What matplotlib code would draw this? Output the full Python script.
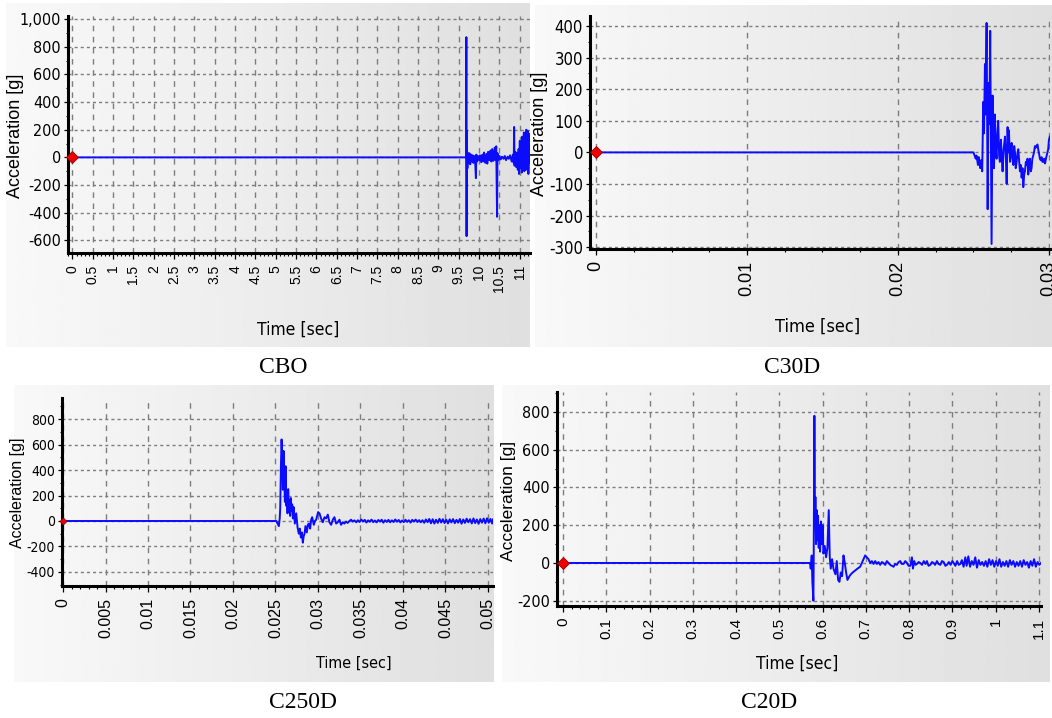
import numpy as np
import matplotlib.pyplot as plt
from matplotlib.ticker import MultipleLocator, FuncFormatter

W, H = 1052, 718
SANS = ['Liberation Sans', 'DejaVu Sans']
NARROW = ['Liberation Sans Narrow', 'DejaVu Sans']
SERIF = ['Liberation Serif', 'DejaVu Serif']

# ==============================
# data (time [s], acceleration [g])
# ==============================
t_cbo = [0.0, 9.68, 9.685, 9.69, 9.695, 9.70, 9.705, 9.71, 9.72, 9.73,
         9.74, 9.75, 9.76, 9.78, 9.80, 9.82, 9.84, 9.86, 9.88, 9.90,
         9.92, 9.93, 9.95, 9.97, 10.00, 10.02, 10.05, 10.08, 10.10, 10.12,
         10.15, 10.18, 10.20, 10.22, 10.25, 10.28, 10.30, 10.32, 10.35, 10.38,
         10.40, 10.42, 10.44, 10.45, 10.47, 10.50, 10.53, 10.56, 10.60, 10.63,
         10.66, 10.70, 10.73, 10.76, 10.80, 10.83, 10.85, 10.86, 10.87, 10.89,
         10.91, 10.93, 10.95, 10.97, 10.98, 11.00, 11.01, 11.03, 11.05, 11.06,
         11.08, 11.10, 11.11, 11.13, 11.15, 11.16, 11.18, 11.20, 11.21, 11.23,
         11.25]
a_cbo = [0, 0, 870, -570, 190, -150, 40, -80, 30, -40,
         25, -20, 30, -50, 20, -30, 15, -40, 10, -20,
         -150, 20, -30, 10, -20, 15, -35, 20, -30, 35,
         -40, 25, -45, 40, -20, 50, -30, 60, -25, 70,
         -20, 80, -430, 30, -20, 10, -15, 5, -10, 10,
         -20, 5, -10, 15, -30, 20, -40, 220, -60, 40,
         -70, 30, -90, 60, -120, 120, -80, 70, -110, 150,
         -60, 180, -100, 160, -90, 200, -70, 190, -120, 170,
         -40]

t_c30 = [0.0, 0.0250, 0.02515, 0.0252, 0.02530, 0.02535, 0.02545, 0.0255, 0.02558, 0.02565,
         0.02570, 0.02576, 0.02580, 0.02587, 0.02594, 0.02600, 0.02605, 0.02611, 0.02620, 0.02627,
         0.02632, 0.02636, 0.02642, 0.02648, 0.02653, 0.02659, 0.02664, 0.02670, 0.02675, 0.02682,
         0.02688, 0.02693, 0.02700, 0.02709, 0.02715, 0.02720, 0.02726, 0.02731, 0.02735, 0.02742,
         0.02748, 0.02753, 0.02758, 0.02764, 0.02770, 0.02775, 0.02780, 0.02786, 0.02792, 0.02797,
         0.02803, 0.02808, 0.02814, 0.02819, 0.02825, 0.02830, 0.02836, 0.02841, 0.02847, 0.02852,
         0.02858, 0.02863, 0.02868, 0.02874, 0.02880, 0.02885, 0.02890, 0.02896, 0.02901, 0.02907,
         0.02912, 0.02918, 0.02924, 0.02929, 0.02935, 0.02940, 0.02946, 0.02951, 0.02957, 0.02962,
         0.02968, 0.02974, 0.02980, 0.02985, 0.02990, 0.02995, 0.03000, 0.03006]
a_c30 = [0, 0, -20, -10, -40, -15, -50, -25, -60, 160,
         60, 280, 120, 410, -180, 220, 90, 385, -290, 180,
         20, -50, 120, 10, -20, 60, 100, -10, -30, 40,
         -20, -60, 10, 50, -20, -100, 80, 0, 70, -30,
         10, 30, -20, -40, 20, 0, -50, -30, 0, 10,
         -30, -60, -40, -80, -50, -110, -70, -60, -30, -40,
         -20, -70, -40, -20, -60, -50, -20, -10, 0, 20,
         15, 20, 25, 10, -5, -20, -25, -15, -30, -30,
         -20, -35, -20, -10, 0, 10, 40, 50]

t_c250 = [0.0, 0.02509, 0.02525, 0.02540, 0.02550, 0.02556, 0.02564, 0.02572, 0.02579, 0.02587,
          0.02595, 0.02603, 0.02611, 0.02619, 0.02626, 0.02634, 0.02642, 0.02650, 0.02658, 0.02666,
          0.02673, 0.02681, 0.02689, 0.02697, 0.02705, 0.02713, 0.02728, 0.02744, 0.02760, 0.02775,
          0.02787, 0.02799, 0.02810, 0.02822, 0.02832, 0.02842, 0.02853, 0.02869, 0.02881, 0.02893,
          0.02908, 0.02920, 0.02932, 0.02951, 0.02965, 0.02979, 0.02990, 0.03002, 0.03018, 0.03037,
          0.03057, 0.03077, 0.03096, 0.03116, 0.03135, 0.03155, 0.03175, 0.03194, 0.03214, 0.03233,
          0.03253, 0.03272, 0.03292, 0.03311, 0.03331, 0.03350, 0.03370, 0.03390, 0.03409, 0.03429,
          0.0345, 0.0347, 0.0349, 0.0351, 0.0353, 0.0355, 0.0357, 0.0359, 0.0361, 0.0363,
          0.0365, 0.0367, 0.0369, 0.0371, 0.0373, 0.0375, 0.0377, 0.0379, 0.0381, 0.0383,
          0.0385, 0.0387, 0.0389, 0.0391, 0.0393, 0.0395, 0.0397, 0.0399, 0.0401, 0.0403,
          0.0405, 0.0407, 0.0409, 0.0411, 0.0413, 0.0415, 0.0417, 0.0419, 0.0421, 0.0423,
          0.0425, 0.0427, 0.0429, 0.0431, 0.0433, 0.0435, 0.0437, 0.0439, 0.0441, 0.0443,
          0.0445, 0.0447, 0.0449, 0.0451, 0.0453, 0.0455, 0.0457, 0.0459, 0.0461, 0.0463,
          0.0465, 0.0467, 0.0469, 0.0471, 0.0473, 0.0475, 0.0477, 0.0479, 0.0481, 0.0483,
          0.0485, 0.0487, 0.0489, 0.0491, 0.0493, 0.0495, 0.0497, 0.0499, 0.0501, 0.0503,
          0.0505, 0.0506]
a_c250 = [0, 0, -20, -40, 20, 100, 420, 640, 500, 245,
          550, 350, 150, 430, 120, 200, 60, 250, 90, 160,
          40, 180, 80, 130, 20, 110, -20, 60, -50, -100,
          -60, -130, -90, -170, -120, -100, -40, -90, -30, -20,
          -60, 10, 30, -30, 0, 10, 40, 70, 60, 20,
          -10, 30, 20, 50, -10, -30, 10, 30, -20, -10,
          10, -30, -10, -20, -5, -15, 0, 10, -5, 5,
          -10, 6, -8, 12, -4, 9, -12, 5, -6, 11,
          -9, 4, -11, 8, -5, 10, -13, 6, -7, 9,
          -10, 5, -8, 12, -6, 8, -11, 4, -9, 10,
          -7, 6, -12, 9, -5, 11, -8, 7, -10, 6,
          -14, 12, -9, 16, -18, 14, -20, 10, -15, 17,
          -12, 14, -16, 10, -19, 13, -11, 15, -17, 9,
          -13, 16, -21, 12, -15, 18, -10, 14, -19, 20,
          -16, 12, -22, 15, -13, 19, -18, 21, -14, 16,
          -20, 12]

t_c20 = [0.0, 0.5710, 0.5726, 0.5749, 0.5764, 0.5788, 0.5795, 0.5811, 0.5826, 0.5834,
         0.5849, 0.5865, 0.5880, 0.5896, 0.5911, 0.5927, 0.5942, 0.5965, 0.5988, 0.6004,
         0.6019, 0.6050, 0.6081, 0.6112, 0.6143, 0.6166, 0.6189, 0.6220, 0.6251, 0.6297,
         0.6328, 0.6359, 0.6390, 0.6421, 0.6452, 0.6483, 0.6514, 0.6544, 0.6575, 0.6622,
         0.6653, 0.6699, 0.6753, 0.6807, 0.6869, 0.6907, 0.6946, 0.6985, 0.7023, 0.7062,
         0.7100, 0.7139, 0.7178, 0.7216, 0.7255, 0.7293, 0.7332, 0.7370, 0.7409, 0.7448,
         0.7486, 0.7525, 0.7564, 0.7602, 0.7641, 0.7680, 0.7718, 0.7757, 0.7795, 0.7834,
         0.7873, 0.7911, 0.7950, 0.7989, 0.8027, 0.8066, 0.8089, 0.8120, 0.8150, 0.8181,
         0.8220, 0.8259, 0.8300, 0.8340, 0.8380, 0.8413, 0.8450, 0.8490, 0.8530, 0.8568,
         0.8600, 0.8645, 0.8680, 0.8722, 0.8760, 0.8799, 0.8840, 0.8876, 0.8920, 0.8960,
         0.9000, 0.9031, 0.9070, 0.9110, 0.9150, 0.9185, 0.9220, 0.9260, 0.9300, 0.9330,
         0.9370, 0.9410, 0.9450, 0.9490, 0.9530, 0.9570, 0.9610, 0.9650, 0.9690, 0.9730,
         0.9770, 0.9810, 0.9850, 0.9890, 0.9930, 0.9970, 1.0010, 1.0050, 1.0090, 1.0130,
         1.0170, 1.0210, 1.0250, 1.0290, 1.0330, 1.0370, 1.0410, 1.0450, 1.0490, 1.0530,
         1.0570, 1.0610, 1.0650, 1.0690, 1.0730, 1.0770, 1.0810, 1.0850, 1.0890, 1.0930,
         1.0970, 1.1010, 1.1050]
a_c20 = [0, 0, -30, 40, -100, -200, 30, 780, 200, 350,
         100, 280, 120, 250, 80, 200, 60, 220, 100, 200,
         50, 90, 30, 80, 280, 30, -30, 20, -30, -60,
         10, -90, -100, -50, -70, 40, 0, -50, -90, -70,
         -60, -50, -40, -30, -20, 0, 20, 40, 30, 20,
         0, 10, -5, 10, -5, 5, -10, 5, 0, -10,
         10, 0, -10, -15, -20, -5, -10, 5, 10, -5,
         -5, 10, 0, -15, -15, 30, -30, 10, -10, -5,
         5, 0, -10, 10, -5, 10, -15, -10, 5, 0,
         -10, 10, -5, -10, 10, 5, -15, -10, 5, -10,
         10, 0, -15, 10, -10, -5, 15, -20, 30, -15,
         35, -20, 10, -10, 30, -25, 15, -10, 5, -15,
         10, -20, 20, -10, 15, -20, 10, -15, 20, -20,
         5, -15, 10, -20, 15, -10, 10, -20, 5, -15,
         10, -20, 15, -10, 5, -25, 10, -15, 20, -20,
         5, -10, 0]

captions = ['CBO', 'C30D', 'C250D', 'C20D']


def box(x0, y0, x1, y1):
    # pixel box (top-left origin) -> figure fraction rect
    return [x0 / W, 1 - y1 / H, (x1 - x0) / W, (y1 - y0) / H]


def ftext(fig, x, y, s, **kw):
    fig.text(x / W, 1 - y / H, s, ha='center', va='center', **kw)


def background(fig, b):
    bg = fig.add_axes(box(*b), zorder=0)
    shade = np.linspace(0.975, 0.875, 256).reshape(1, -1)
    bg.imshow(shade, cmap='gray', vmin=0, vmax=1, aspect='auto',
              extent=[0, 1, 0, 1], interpolation='bilinear')
    bg.set_axis_off()


def num(v):
    return f'{round(v, 6) + 0.0:g}'


def panel(fig, b, t, a, xlim, ylim, xstep, xminor, ystep, yfmt, xsize, ysize, msize=6):
    ax = fig.add_axes(box(*b), zorder=1)
    ax.patch.set_alpha(0)
    ax.plot(t, a, color='#0b0bff', lw=1.4, zorder=3)
    ax.plot([0], [0], marker='D', ms=msize, mfc='#ee0000', mec='#990000',
            mew=0.6, zorder=5, clip_on=False)
    ax.set_xlim(xlim)
    ax.set_ylim(ylim)

    ax.xaxis.set_major_locator(MultipleLocator(xstep))
    ax.xaxis.set_minor_locator(MultipleLocator(xminor))
    ax.yaxis.set_major_locator(MultipleLocator(ystep))
    ax.yaxis.set_minor_locator(MultipleLocator(ystep / 2))
    ax.xaxis.set_major_formatter(FuncFormatter(lambda v, p: num(v)))
    ax.yaxis.set_major_formatter(FuncFormatter(yfmt))

    ax.grid(True, axis='y', which='major', linestyle=(0, (2.2, 2.2)),
            color='#7d7d7d', lw=1.0, zorder=1)
    ax.grid(True, axis='x', which='major', linestyle=(0, (4, 4)),
            color='#7d7d7d', lw=1.0, zorder=1)

    for s in ['top', 'right']:
        ax.spines[s].set_visible(False)
    for s in ['left', 'bottom']:
        ax.spines[s].set_linewidth(2.2)
        ax.spines[s].set_color('black')

    ax.tick_params(axis='x', which='major', direction='out', length=4.5, width=0.9,
                   pad=4, labelrotation=90, labelsize=xsize, labelfontfamily=SANS)
    ax.tick_params(axis='x', which='minor', direction='out', length=2.2, width=0.8)
    ax.tick_params(axis='y', which='major', direction='out', length=3, width=0.9,
                   pad=2, labelsize=ysize, labelfontfamily=NARROW)
    ax.tick_params(axis='y', which='minor', direction='out', length=1.8, width=0.8)
    for lbl in ax.get_yticklabels():
        lbl.set_fontstretch('condensed')
    return ax


fig = plt.figure(figsize=(W / 100, H / 100), dpi=100)
fig.patch.set_facecolor('white')

# ---- CBO ----
background(fig, (6, 3, 530, 347))
panel(fig, (68, 16, 530, 253), t_cbo, a_cbo, (-0.11, 11.25), (-692, 1023),
      0.5, 0.1, 200, lambda v, p: f'{v:,.0f}', 10, 11.5)
ftext(fig, 16, 136, 'Acceleration [g]', rotation=90, fontsize=13, family=SANS)
ftext(fig, 298, 330, 'Time [sec]', fontsize=12.5, family=NARROW, fontstretch='condensed')
ftext(fig, 283, 367, captions[0], fontsize=17, family=SERIF)

# ---- C30D ----
background(fig, (535, 5, 1052, 347))
panel(fig, (590, 16, 1050, 249), t_c30, a_c30, (-0.0004, 0.03007), (-306, 432),
      0.01, 0.0025, 100, lambda v, p: f'{v:.0f}', 13, 12)
ftext(fig, 540, 134, 'Acceleration [g]', rotation=90, fontsize=13, family=SANS)
ftext(fig, 818, 327, 'Time [sec]', fontsize=13, family=NARROW, fontstretch='condensed')
ftext(fig, 792, 367, captions[1], fontsize=17, family=SERIF)

# ---- C250D ----
background(fig, (14, 385, 494, 682))
panel(fig, (62, 398, 493, 586), t_c250, a_c250, (-0.00012, 0.0506), (-510, 965),
      0.005, 0.001, 200, lambda v, p: f'{v:.0f}', 11.5, 10, msize=3.5)
ftext(fig, 18, 493, 'Acceleration [g]', rotation=90, fontsize=11.5, family=SANS)
ftext(fig, 354, 663, 'Time [sec]', fontsize=11.5, family=NARROW, fontstretch='condensed')
ftext(fig, 303, 703, captions[2], fontsize=17, family=SERIF)

# ---- C20D ----
background(fig, (502, 385, 1050, 682))
panel(fig, (557, 392, 1041, 606), t_c20, a_c20, (-0.014, 1.105), (-228, 906),
      0.1, 0.02, 200, lambda v, p: f'{v:.0f}', 11, 11.5)
ftext(fig, 508, 501, 'Acceleration [g]', rotation=90, fontsize=12.5, family=SANS)
ftext(fig, 797, 664, 'Time [sec]', fontsize=12.5, family=NARROW, fontstretch='condensed')
ftext(fig, 769, 703, captions[3], fontsize=17, family=SERIF)

fig.savefig('out.png', dpi=100)
